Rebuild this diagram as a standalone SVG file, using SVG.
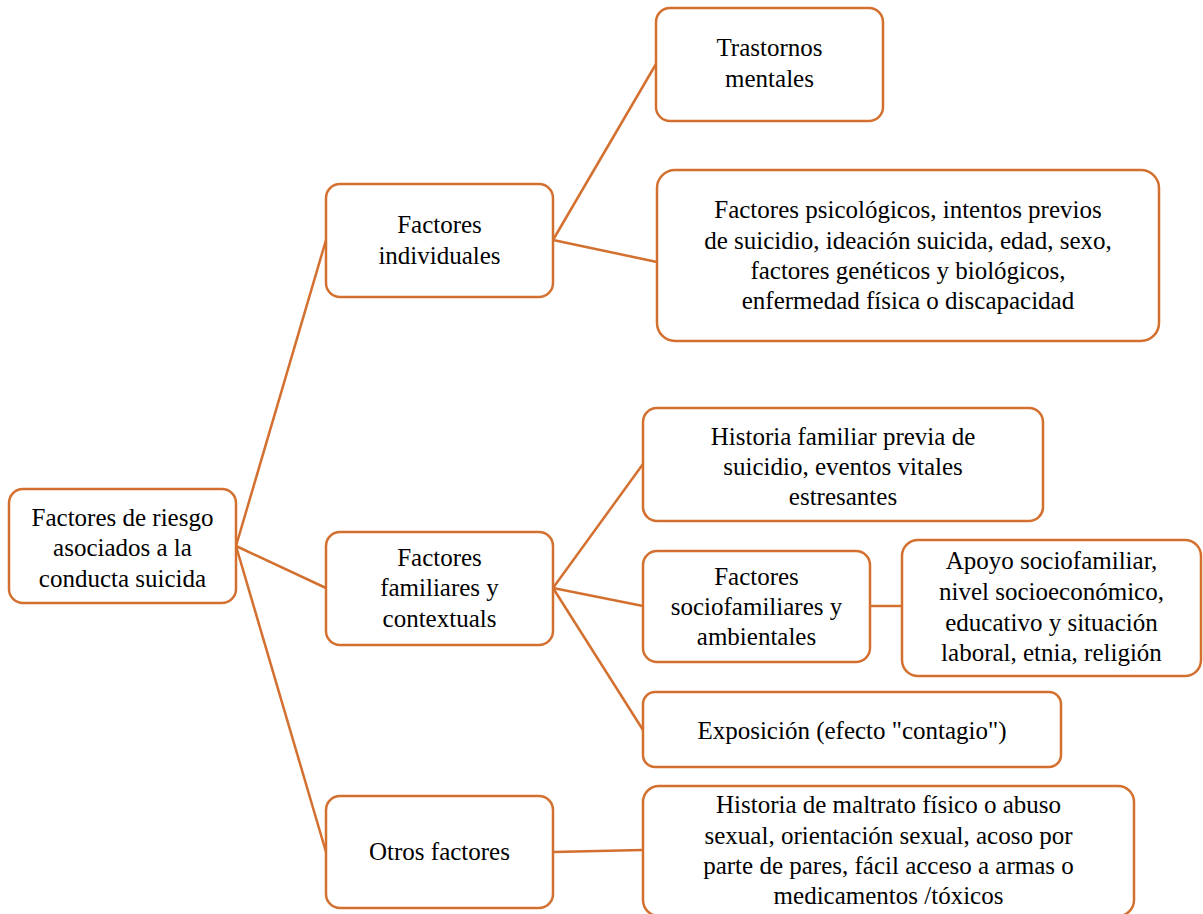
<svg xmlns="http://www.w3.org/2000/svg" width="1203" height="914" viewBox="0 0 1203 914">
<rect width="1203" height="914" fill="#fff"/>
<g id="connectors" stroke="#D4702F" stroke-width="2.5">
<line x1="236" y1="546" x2="326" y2="240"/>
<line x1="236" y1="546" x2="326" y2="588"/>
<line x1="236" y1="546" x2="326" y2="852"/>
<line x1="553" y1="240" x2="656" y2="64"/>
<line x1="553" y1="240" x2="657" y2="262"/>
<line x1="553" y1="588" x2="643" y2="464"/>
<line x1="553" y1="588" x2="643" y2="606"/>
<line x1="553" y1="588" x2="643" y2="730"/>
<line x1="870" y1="606" x2="902" y2="606"/>
<line x1="553" y1="852" x2="643" y2="850"/>
</g>
<g id="root">
<rect x="9" y="489" width="227" height="114" rx="14" fill="#fff" stroke="#D4702F" stroke-width="2.5"/>
<text x="122.5" y="526" font-family="Liberation Serif" font-size="25" text-anchor="middle">Factores de riesgo</text>
<text x="122.5" y="556" font-family="Liberation Serif" font-size="25" text-anchor="middle">asociados a la</text>
<text x="122.5" y="587" font-family="Liberation Serif" font-size="25" text-anchor="middle">conducta suicida</text>
</g>
<g id="individuales">
<rect x="326" y="184" width="227" height="113" rx="14" fill="#fff" stroke="#D4702F" stroke-width="2.5"/>
<text x="439.5" y="233" font-family="Liberation Serif" font-size="25" text-anchor="middle">Factores</text>
<text x="439.5" y="264" font-family="Liberation Serif" font-size="25" text-anchor="middle">individuales</text>
</g>
<g id="trastornos">
<rect x="656" y="8" width="227" height="113" rx="14" fill="#fff" stroke="#D4702F" stroke-width="2.5"/>
<text x="769.5" y="56" font-family="Liberation Serif" font-size="25" text-anchor="middle">Trastornos</text>
<text x="769.5" y="87" font-family="Liberation Serif" font-size="25" text-anchor="middle">mentales</text>
</g>
<g id="psicologicos">
<rect x="657" y="170" width="502" height="171" rx="18" fill="#fff" stroke="#D4702F" stroke-width="2.5"/>
<text x="908" y="218" font-family="Liberation Serif" font-size="25" text-anchor="middle">Factores psicológicos, intentos previos</text>
<text x="908" y="249" font-family="Liberation Serif" font-size="25" text-anchor="middle">de suicidio, ideación suicida, edad, sexo,</text>
<text x="908" y="279" font-family="Liberation Serif" font-size="25" text-anchor="middle">factores genéticos y biológicos,</text>
<text x="908" y="309" font-family="Liberation Serif" font-size="25" text-anchor="middle">enfermedad física o discapacidad</text>
</g>
<g id="familiares">
<rect x="326" y="532" width="227" height="113" rx="14" fill="#fff" stroke="#D4702F" stroke-width="2.5"/>
<text x="439.5" y="566" font-family="Liberation Serif" font-size="25" text-anchor="middle">Factores</text>
<text x="439.5" y="596" font-family="Liberation Serif" font-size="25" text-anchor="middle">familiares y</text>
<text x="439.5" y="627" font-family="Liberation Serif" font-size="25" text-anchor="middle">contextuals</text>
</g>
<g id="historia-familiar">
<rect x="643" y="408" width="400" height="113" rx="14" fill="#fff" stroke="#D4702F" stroke-width="2.5"/>
<text x="843" y="445" font-family="Liberation Serif" font-size="25" text-anchor="middle">Historia familiar previa de</text>
<text x="843" y="475" font-family="Liberation Serif" font-size="25" text-anchor="middle">suicidio, eventos vitales</text>
<text x="843" y="505" font-family="Liberation Serif" font-size="25" text-anchor="middle">estresantes</text>
</g>
<g id="sociofamiliares">
<rect x="643" y="551" width="227" height="111" rx="14" fill="#fff" stroke="#D4702F" stroke-width="2.5"/>
<text x="756.5" y="585" font-family="Liberation Serif" font-size="25" text-anchor="middle">Factores</text>
<text x="756.5" y="615" font-family="Liberation Serif" font-size="25" text-anchor="middle">sociofamiliares y</text>
<text x="756.5" y="645" font-family="Liberation Serif" font-size="25" text-anchor="middle">ambientales</text>
</g>
<g id="apoyo">
<rect x="902" y="540" width="299" height="136" rx="16" fill="#fff" stroke="#D4702F" stroke-width="2.5"/>
<text x="1051.5" y="569" font-family="Liberation Serif" font-size="25" text-anchor="middle">Apoyo sociofamiliar,</text>
<text x="1051.5" y="600" font-family="Liberation Serif" font-size="25" text-anchor="middle">nivel socioeconómico,</text>
<text x="1051.5" y="631" font-family="Liberation Serif" font-size="25" text-anchor="middle">educativo y situación</text>
<text x="1051.5" y="661" font-family="Liberation Serif" font-size="25" text-anchor="middle">laboral, etnia, religión</text>
</g>
<g id="exposicion">
<rect x="643" y="692" width="418" height="75" rx="12" fill="#fff" stroke="#D4702F" stroke-width="2.5"/>
<text x="852" y="739" font-family="Liberation Serif" font-size="25" text-anchor="middle">Exposición (efecto "contagio")</text>
</g>
<g id="otros">
<rect x="326" y="796" width="227" height="112" rx="14" fill="#fff" stroke="#D4702F" stroke-width="2.5"/>
<text x="439.5" y="860" font-family="Liberation Serif" font-size="25" text-anchor="middle">Otros factores</text>
</g>
<g id="maltrato">
<rect x="643" y="786" width="491" height="130" rx="16" fill="#fff" stroke="#D4702F" stroke-width="2.5"/>
<text x="888.5" y="813" font-family="Liberation Serif" font-size="25" text-anchor="middle">Historia de maltrato físico o abuso</text>
<text x="888.5" y="844" font-family="Liberation Serif" font-size="25" text-anchor="middle">sexual, orientación sexual, acoso por</text>
<text x="888.5" y="874" font-family="Liberation Serif" font-size="25" text-anchor="middle">parte de pares, fácil acceso a armas o</text>
<text x="888.5" y="904" font-family="Liberation Serif" font-size="25" text-anchor="middle">medicamentos /tóxicos</text>
</g>
</svg>
